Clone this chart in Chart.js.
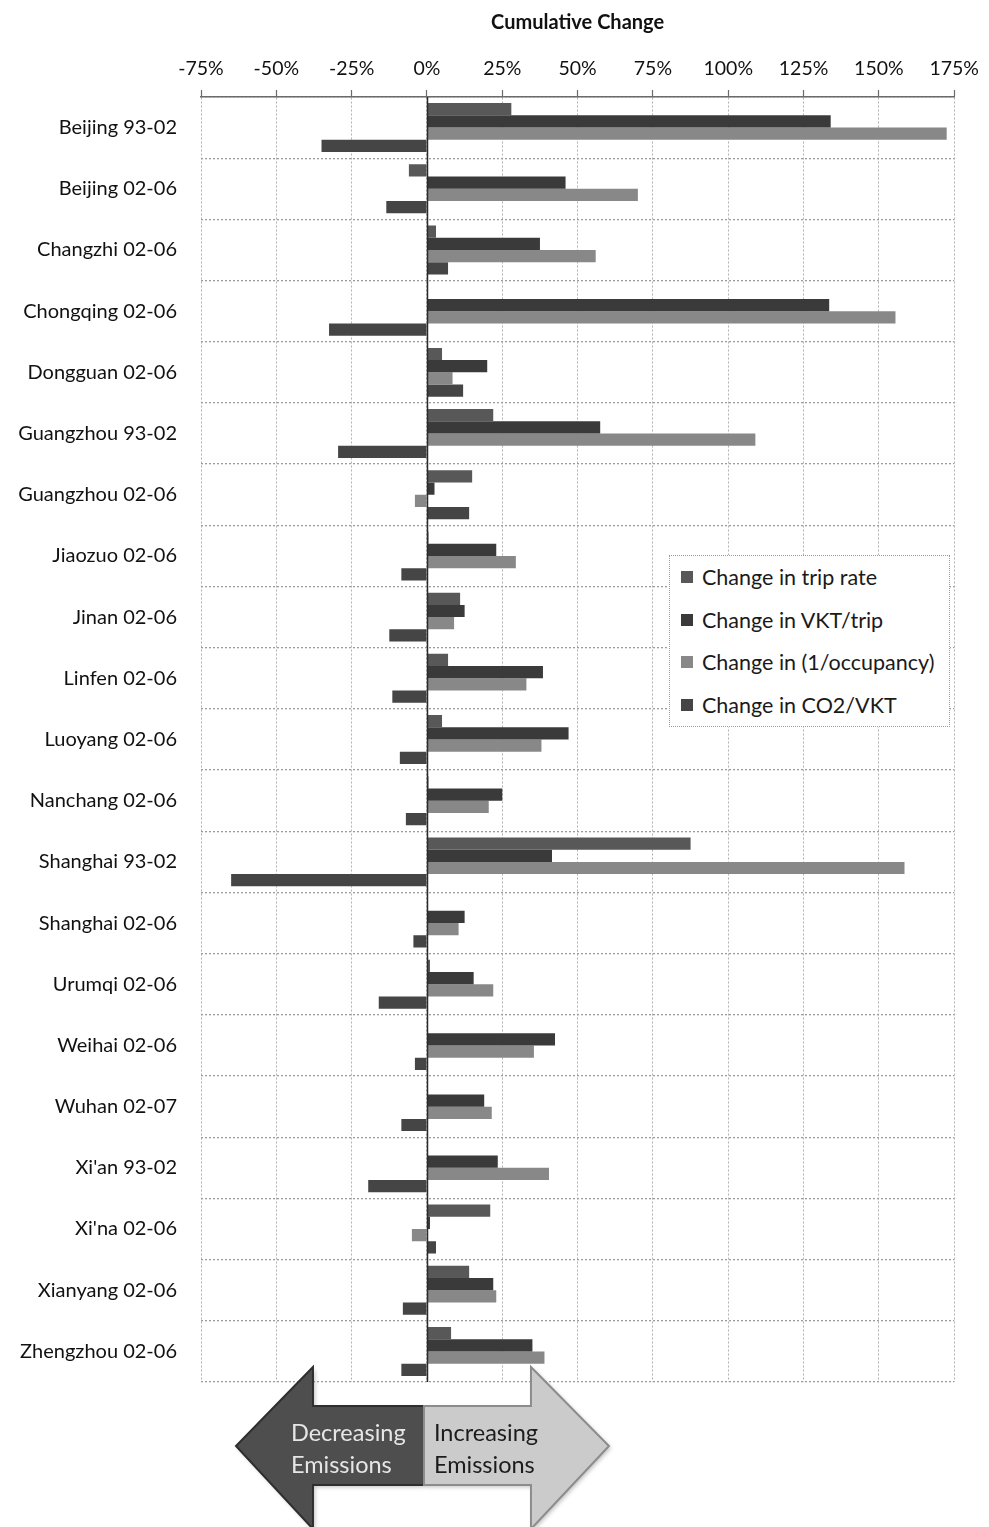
<!DOCTYPE html>
<html>
<head>
<meta charset="utf-8">
<script src="https://cdn.jsdelivr.net/npm/chart.js@4.4.1/dist/chart.umd.min.js"></script>
<style>
  html, body { margin: 0; padding: 0; background: #ffffff; }
  #wrap { position: relative; width: 989px; height: 1527px; overflow: hidden; }
  #chart { position: absolute; left: 0; top: 0; }
  #legend {
    position: absolute; left: 669px; top: 555px; width: 281px; height: 172px;
    background: #ffffff; border: 1px dotted #9a9a9a; box-sizing: border-box;
    font-family: Lato, "Open Sans", sans-serif; font-size: 21.5px; color: #1a1a1a;
    padding-top: 0px;
  }
  #legend .item { height: 42.5px; display: flex; align-items: center; padding-left: 11px; }
  #legend .sw { width: 12px; height: 12px; margin-right: 9px; flex: none; }
</style>
</head>
<body>
<div id="wrap">
  <canvas id="chart" width="989" height="1527"></canvas>
  <div id="legend"></div>
</div>
<script>
// Cities and study periods
const cities = [
  'Beijing 93-02', 'Beijing 02-06', 'Changzhi 02-06', 'Chongqing 02-06', 'Dongguan 02-06',
  'Guangzhou 93-02', 'Guangzhou 02-06', 'Jiaozuo 02-06', 'Jinan 02-06', 'Linfen 02-06',
  'Luoyang 02-06', 'Nanchang 02-06', 'Shanghai 93-02', 'Shanghai 02-06', 'Urumqi 02-06',
  'Weihai 02-06', 'Wuhan 02-07', "Xi'an 93-02", "Xi'na 02-06", 'Xianyang 02-06', 'Zhengzhou 02-06'
];

// Cumulative change (%) of each emission factor
const tripRate  = [28, -6, 3, 0, 5, 22, 15, 0.5, 11, 7, 5, 0.5, 87.5, 0, 1, 0, 0, 0, 21, 14, 8];
const vktPerTrip = [134, 46, 37.5, 133.5, 20, 57.5, 2.5, 23, 12.5, 38.5, 47, 25, 41.5, 12.5, 15.5, 42.5, 19, 23.5, 1, 22, 35];
const invOccupancy = [172.5, 70, 56, 155.5, 8.5, 109, -4, 29.5, 9, 33, 38, 20.5, 158.5, 10.5, 22, 35.5, 21.5, 40.5, -5, 23, 39];
const co2PerVkt = [-35, -13.5, 7, -32.5, 12, -29.5, 14, -8.5, -12.5, -11.5, -9, -7, -65, -4.5, -16, -4, -8.5, -19.5, 3, -8, -8.5];

const seriesNames = ['Change in trip rate', 'Change in VKT/trip', 'Change in (1/occupancy)', 'Change in CO2/VKT'];
const seriesColors = ['#585858', '#3a3a3a', '#888888', '#454545'];

// Axis range and tick labels
const xMin = -75, xMax = 175, xStep = 25;
const xTickLabels = ['-75%', '-50%', '-25%', '0%', '25%', '50%', '75%', '100%', '125%', '150%', '175%'];

const FONT = 'Lato, "Open Sans", sans-serif';

// Solid zero line over the bars
const zeroLine = {
  id: 'zeroLine',
  afterDatasetsDraw(chart) {
    const { ctx, chartArea, scales } = chart;
    const x = Math.round(scales.x.getPixelForValue(0)) + 0.5;
    ctx.save();
    ctx.strokeStyle = '#2a2a2a';
    ctx.lineWidth = 1.5;
    ctx.beginPath();
    ctx.moveTo(x, chartArea.top);
    ctx.lineTo(x, chartArea.bottom);
    ctx.stroke();
    ctx.restore();
  }
};

// Double arrow under the plot, split at zero
const emissionsArrow = {
  id: 'emissionsArrow',
  afterDraw(chart) {
    const { ctx, chartArea, scales } = chart;
    const sx = scales.x.getPixelForValue(0) - 3;
    const b = chartArea.bottom;
    const headTop = b - 15, headBot = b + 147, shaftTop = b + 24, shaftBot = b + 103, mid = b + 64;
    const lTip = sx - 188, lBase = sx - 111, rBase = sx + 107, rTip = sx + 185;

    ctx.save();
    ctx.shadowColor = 'rgba(0,0,0,0.25)';
    ctx.shadowBlur = 4;
    ctx.shadowOffsetX = 2;
    ctx.shadowOffsetY = 2;

    // left half
    ctx.beginPath();
    ctx.moveTo(sx, shaftTop);
    ctx.lineTo(lBase, shaftTop);
    ctx.lineTo(lBase, headTop);
    ctx.lineTo(lTip, mid);
    ctx.lineTo(lBase, headBot);
    ctx.lineTo(lBase, shaftBot);
    ctx.lineTo(sx, shaftBot);
    ctx.closePath();
    ctx.fillStyle = '#4e4e4e';
    ctx.fill();
    ctx.shadowColor = 'transparent';
    ctx.strokeStyle = '#2e2e2e';
    ctx.lineWidth = 2;
    ctx.stroke();

    // right half
    ctx.shadowColor = 'rgba(0,0,0,0.25)';
    ctx.beginPath();
    ctx.moveTo(sx, shaftTop);
    ctx.lineTo(rBase, shaftTop);
    ctx.lineTo(rBase, headTop);
    ctx.lineTo(rTip, mid);
    ctx.lineTo(rBase, headBot);
    ctx.lineTo(rBase, shaftBot);
    ctx.lineTo(sx, shaftBot);
    ctx.closePath();
    ctx.fillStyle = '#cbcbcb';
    ctx.fill();
    ctx.shadowColor = 'transparent';
    ctx.strokeStyle = '#8c8c8c';
    ctx.lineWidth = 2;
    ctx.stroke();

    ctx.font = '23.5px ' + FONT;
    ctx.textAlign = 'left';
    ctx.textBaseline = 'middle';
    ctx.fillStyle = '#e6e6e6';
    ctx.fillText('Decreasing', sx - 133, b + 51);
    ctx.fillText('Emissions', sx - 133, b + 83);
    ctx.fillStyle = '#1c1c1c';
    ctx.fillText('Increasing', sx + 10, b + 51);
    ctx.fillText('Emissions', sx + 10, b + 83);
    ctx.restore();
  }
};

const datasets = [tripRate, vktPerTrip, invOccupancy, co2PerVkt].map((vals, i) => ({
  label: seriesNames[i],
  data: vals,
  backgroundColor: seriesColors[i],
  borderWidth: 0,
  categoryPercentage: 0.8,
  barPercentage: 1.0
}));

new Chart(document.getElementById('chart'), {
  type: 'bar',
  data: { labels: cities, datasets },
  plugins: [zeroLine, emissionsArrow],
  options: {
    indexAxis: 'y',
    responsive: false,
    animation: false,
    layout: { padding: { left: 0, right: 34, top: 0, bottom: 145 } },
    plugins: {
      legend: { display: false },
      tooltip: { enabled: false }
    },
    scales: {
      x: {
        position: 'top',
        min: xMin,
        max: xMax,
        afterFit(scale) { scale.height = 97; },
        afterBuildTicks(scale) {
          scale.ticks = xTickLabels.map((_, i) => ({ value: xMin + i * xStep }));
        },
        ticks: {
          stepSize: xStep,
          padding: 10,
          color: '#111111',
          font: { family: FONT, size: 19.5 },
          maxRotation: 0,
          callback: (v, i) => xTickLabels[i]
        },
        title: {
          display: true,
          text: 'Cumulative Change',
          color: '#111111',
          font: { family: FONT, size: 20, weight: 'bold' },
          padding: { top: 11, bottom: 0 }
        },
        grid: {
          color: '#b0b0b0',
          lineWidth: 1,
          drawTicks: true,
          tickLength: 7,
          tickColor: '#6a6a6a',
          tickWidth: 1.2,
          tickBorderDash: []
        },
        border: { display: true, color: '#6a6a6a', width: 1.5, dash: [2, 2] }
      },
      y: {
        afterFit(scale) { scale.width = 201; },
        ticks: {
          color: '#111111',
          font: { family: FONT, size: 20 },
          padding: 24
        },
        grid: {
          color: '#9c9c9c',
          lineWidth: 1.3,
          drawTicks: false,
          offset: true
        },
        border: { display: false, dash: [2, 2] }
      }
    }
  }
});

// Legend box inside the plot
const legendEl = document.getElementById('legend');
seriesNames.forEach((name, i) => {
  const item = document.createElement('div');
  item.className = 'item';
  const sw = document.createElement('span');
  sw.className = 'sw';
  sw.style.background = seriesColors[i];
  const txt = document.createElement('span');
  txt.textContent = name;
  item.appendChild(sw);
  item.appendChild(txt);
  legendEl.appendChild(item);
});
</script>
</body>
</html>
